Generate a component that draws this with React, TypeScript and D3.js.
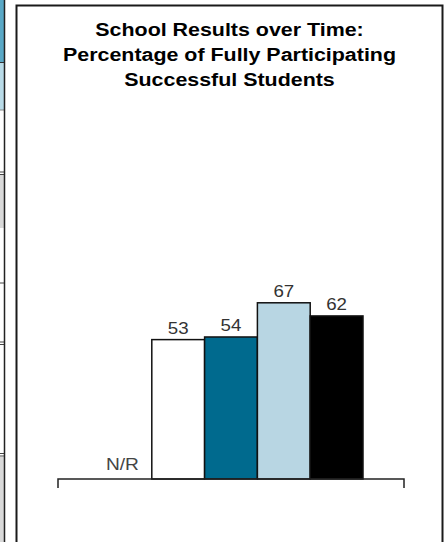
import React from "react";
import * as d3 from "d3";

const categories = ["Year 1", "Year 2", "Year 3", "Year 4", "Year 5"];
const values: (number | null)[] = [null, 53, 54, 67, 62];
const barColors = ["#ffffff", "#ffffff", "#006a8e", "#b8d6e3", "#000000"];
const titleLines = [
  "School Results over Time:",
  "Percentage of Fully Participating",
  "Successful Students",
];
const missingLabel = "N/R";

export default function App() {
  const W = 445;
  const H = 542;
  const x = d3.scaleBand<string>().domain(categories).range([99, 363]).padding(0);
  const y = d3.scaleLinear().domain([0, 100]).range([479, 216]);
  const axisLeft = 58;
  const axisRight = 404;
  const base = y(0);

  return (
    <svg
      width={W}
      height={H}
      style={{ position: "fixed", left: 0, top: 0, background: "#fff" }}
      fontFamily="'Liberation Sans', Arial, sans-serif"
    >
      {/* left table fragment */}
      <rect x={0} y={0} width={4} height={63} fill="#5aa8c6" />
      <rect x={0} y={63} width={4} height={47} fill="#b9dbe8" />
      <rect x={0} y={175} width={4} height={53} fill="#d9d9d9" />
      <rect x={0} y={457} width={4} height={85} fill="#d9d9d9" />
      <line x1={0} x2={4} y1={62.5} y2={62.5} stroke="#333" strokeWidth={1} />
      <line x1={0} x2={4} y1={110} y2={110} stroke="#888" strokeWidth={1} />
      <line x1={0} x2={4} y1={172} y2={172} stroke="#444" strokeWidth={1} />
      <line x1={0} x2={4} y1={174.5} y2={174.5} stroke="#444" strokeWidth={1} />
      <line x1={0} x2={4} y1={283} y2={283} stroke="#444" strokeWidth={1} />
      <line x1={0} x2={4} y1={342} y2={342} stroke="#444" strokeWidth={1} />
      <line x1={0} x2={4} y1={344.5} y2={344.5} stroke="#444" strokeWidth={1} />
      <line x1={0} x2={4} y1={453.5} y2={453.5} stroke="#444" strokeWidth={1} />
      <line x1={0} x2={4} y1={456} y2={456} stroke="#444" strokeWidth={1} />
      <line x1={4.5} x2={4.5} y1={0} y2={H} stroke="#222" strokeWidth={1.5} />

      {/* frame */}
      <rect x={16.5} y={5.5} width={426} height={H + 10} fill="none" stroke="#1a1a1a" strokeWidth={2} />

      {/* title */}
      {titleLines.map((t, i) => (
        <text
          key={i}
          transform={`translate(229.5,${36 + i * 25}) scale(1.19,1)`}
          textAnchor="middle"
          fontWeight="bold"
          fontSize={18}
          fill="#000"
        >
          {t}
        </text>
      ))}

      {/* bars */}
      {categories.map((c, i) => {
        const v = values[i];
        const bx = x(c)!;
        const bw = x.bandwidth();
        if (v === null) {
          return (
            <text
              key={c}
              transform={`translate(${bx + bw / 2 - 3},${base - 9}) scale(1.2,1)`}
              textAnchor="middle"
              fontSize={16}
              fill="#444"
            >
              {missingLabel}
            </text>
          );
        }
        return (
          <g key={c}>
            <rect
              x={bx}
              y={y(v)}
              width={bw}
              height={base - y(v)}
              fill={barColors[i]}
              stroke="#111"
              strokeWidth={1.5}
            />
            <text
              transform={`translate(${bx + bw / 2},${y(v) - 6}) scale(1.1,1)`}
              textAnchor="middle"
              fontSize={17}
              fill="#333"
            >
              {v}
            </text>
          </g>
        );
      })}

      {/* axis */}
      <path
        d={`M${axisLeft},488 V${base} H${axisRight} V488`}
        fill="none"
        stroke="#222"
        strokeWidth={1.5}
      />
    </svg>
  );
}
